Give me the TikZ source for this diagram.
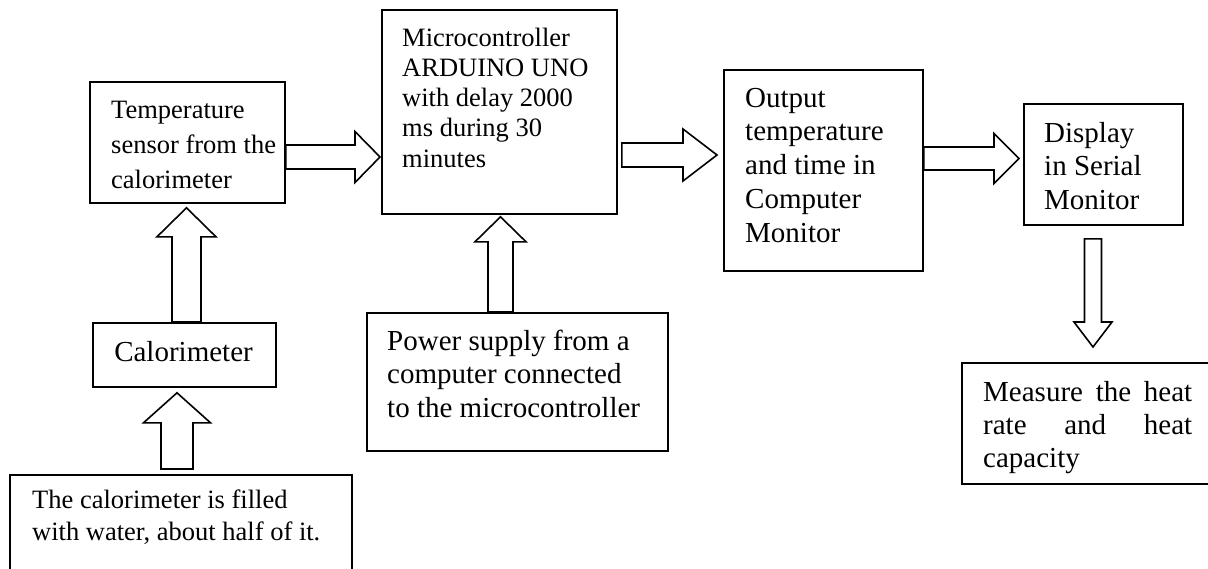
\documentclass[tikz,border=0pt]{standalone}
\usepackage{fontspec}
\setmainfont{Liberation Serif}
\usetikzlibrary{calc}
\newcommand{\fsA}{\fontsize{26.5pt}{30pt}\selectfont}
\newcommand{\fsB}{\fontsize{29pt}{33pt}\selectfont}
\newcommand{\vlines}[2]{\vtop{\baselineskip=#1\lineskip=0pt\lineskiplimit=-100pt #2}}
% block arrows: #1 start, #2 tip, #3 shaft half width, #4 head half width, #5 head length
\newcommand{\blkR}[5]{\draw[blk] let \p1=(#1), \p2=(#2) in
  (\x1,\y1+#3) -- (\x2-#5,\y1+#3) -- (\x2-#5,\y1+#4) -- (\x2,\y1) --
  (\x2-#5,\y1-#4) -- (\x2-#5,\y1-#3) -- (\x1,\y1-#3) -- cycle;}
\newcommand{\blkU}[5]{\draw[blk] let \p1=(#1), \p2=(#2) in
  (\x1-#3,\y1) -- (\x1-#3,\y2-#5) -- (\x1-#4,\y2-#5) -- (\x1,\y2) --
  (\x1+#4,\y2-#5) -- (\x1+#3,\y2-#5) -- (\x1+#3,\y1) -- cycle;}
\newcommand{\blkD}[5]{\draw[blk] let \p1=(#1), \p2=(#2) in
  (\x1-#3,\y1) -- (\x1-#3,\y2+#5) -- (\x1-#4,\y2+#5) -- (\x1,\y2) --
  (\x1+#4,\y2+#5) -- (\x1+#3,\y2+#5) -- (\x1+#3,\y1) -- cycle;}
\tikzset{
  box/.style={draw, line width=1.8pt, inner sep=0pt, anchor=north west},
  blk/.style={draw, line width=1.6pt, fill=white},
  txt/.style={inner sep=0pt, anchor=base west}
}
\begin{document}
\begin{tikzpicture}[x=1pt, y=-1pt]
\fill[white] (0,0) rectangle (1208,568);
\useasboundingbox (0,0) rectangle (1208,568);

% boxes
\node[box, minimum width=195pt, minimum height=121pt] (temp)  at (89,81) {};
\node[box, minimum width=235pt, minimum height=204pt] (mcu)   at (381,9) {};
\node[box, minimum width=199pt, minimum height=201pt] (out)   at (723,69) {};
\node[box, minimum width=159pt, minimum height=121pt] (disp)  at (1023,103) {};
\node[box, minimum width=183pt, minimum height=64pt]  (cal)   at (92,322) {};
\node[box, minimum width=301pt, minimum height=138pt] (pwr)   at (366,312) {};
\node[box, minimum width=254pt, minimum height=121pt] (meas)  at (961,362) {};
\node[box, minimum width=342pt, minimum height=110pt] (water) at (9,474) {};

% texts
\node[txt] (ttemp) at (111,118) {\fsA\vlines{35pt}{\hbox{Temperature}\hbox{sensor from the}\hbox{calorimeter}}};
\node[txt] (tmcu) at (402,46) {\fsA\vlines{30.3pt}{\hbox{Microcontroller}\hbox{ARDUINO UNO}\hbox{with delay 2000}\hbox{ms during 30}\hbox{minutes}}};
\node[txt] (tout) at (745,107) {\fsB\vlines{33.8pt}{\hbox{Output}\hbox{temperature}\hbox{and time in}\hbox{Computer}\hbox{Monitor}}};
\node[txt] (tdisp) at (1044,142) {\fsB\vlines{33.5pt}{\hbox{Display}\hbox{in Serial}\hbox{Monitor}}};
\node[inner sep=0pt, anchor=base] (tcal) at (183.5,361) {\fsB Calorimeter};
\node[txt] (tpwr) at (387,350) {\fsB\vlines{33.5pt}{\hbox{Power supply from a}\hbox{computer connected}\hbox{to the microcontroller}}};
\node[txt] (tmeas) at (983,401) {\fsB\vlines{33pt}{\hbox to 209pt{Measure\hfil the\hfil heat}\hbox to 209pt{rate\hfil and\hfil heat}\hbox{capacity}}};
\node[txt] (twater) at (32,508) {\fsA\vlines{32pt}{\hbox{The calorimeter is filled}\hbox{with water, about half of it.}}};

% block arrows
\blkR{$(temp.north east)+(0,76)$}{$(mcu.west)+(-1,0)$}{12pt}{25.5pt}{25pt}
\blkR{$(mcu.north east)+(4,146)$}{$(out.west)+(-6,0)$}{12pt}{26pt}{34pt}
\blkR{$(out.north east)+(0,89.5)$}{$(disp.west)+(-4,0)$}{11.5pt}{25pt}{25pt}
\blkU{$(cal.north west)+(94.5,0)$}{$(temp.south)+(0,4)$}{14.5pt}{29.5pt}{29pt}
\blkU{$(water.north west)+(168,-5)$}{$(cal.south)+(0,5)$}{16pt}{33.5pt}{30pt}
\blkU{$(pwr.north west)+(134.5,0)$}{$(mcu.south)+(0,2)$}{12.5pt}{25.5pt}{25pt}
\blkD{$(disp.south west)+(70,13)$}{$(meas.north)+(0,-15)$}{8.5pt}{19pt}{25pt}
\end{tikzpicture}
\end{document}
